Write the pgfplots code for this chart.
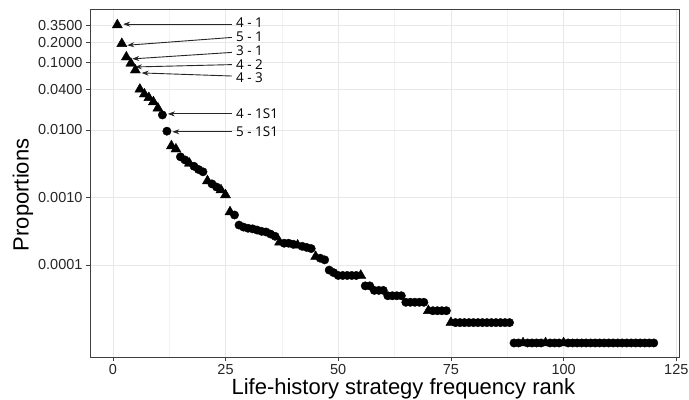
\documentclass[border=0pt]{standalone}
\usepackage{fontspec}
\setmainfont{Liberation Sans}
\newfontfamily\annfont{Open Sans}
\usepackage{pgfplots}
\usepackage{pgfplotstable}
\pgfplotsset{compat=1.18}
\usetikzlibrary{arrows.meta}

% triangles
\pgfplotstableread{
r p
1 0.36
2 0.19
3 0.12
4 0.097
5 0.077
6 0.040
7 0.034
8 0.030
9 0.026
10 0.021
13 0.0058
14 0.0052
17 0.0032
21 0.00176
24 0.00129
25 0.00109
26 0.00061
37 0.000217
41 0.000196
45 0.000133
55 0.0000699
70 0.000021
75 0.000014
91 0.00000699
96 0.00000699
100 0.00000699
}\tri

% circles
\pgfplotstableread{
r p
11 0.0167
12 0.0096
15 0.0040
16 0.0036
18 0.0029
19 0.0026
20 0.0024
22 0.00159
23 0.00143
27 0.00055
28 0.00039
29 0.000364
30 0.00035
31 0.000343
32 0.000329
33 0.000315
34 0.000308
35 0.000287
36 0.000266
38 0.00021
39 0.00021
40 0.000203
42 0.000189
43 0.000182
44 0.000175
46 0.000126
47 0.000119
48 0.0000839
49 0.0000769
50 0.0000699
51 0.0000699
52 0.0000699
53 0.0000699
54 0.0000699
56 0.000049
57 0.000049
58 0.000042
59 0.000042
60 0.000042
61 0.000035
62 0.000035
63 0.000035
64 0.000035
65 0.000028
66 0.000028
67 0.000028
68 0.000028
69 0.000028
71 0.000021
72 0.000021
73 0.000021
74 0.000021
76 0.000014
77 0.000014
78 0.000014
79 0.000014
80 0.000014
81 0.000014
82 0.000014
83 0.000014
84 0.000014
85 0.000014
86 0.000014
87 0.000014
88 0.000014
89 0.00000699
90 0.00000699
92 0.00000699
93 0.00000699
94 0.00000699
95 0.00000699
97 0.00000699
98 0.00000699
99 0.00000699
101 0.00000699
102 0.00000699
103 0.00000699
104 0.00000699
105 0.00000699
106 0.00000699
107 0.00000699
108 0.00000699
109 0.00000699
110 0.00000699
111 0.00000699
112 0.00000699
113 0.00000699
114 0.00000699
115 0.00000699
116 0.00000699
117 0.00000699
118 0.00000699
119 0.00000699
120 0.00000699
}\circ

\begin{document}
\begin{tikzpicture}
\begin{axis}[name=ax, scale only axis, width=589pt, height=348pt,
  xmin=-5.06, xmax=125.6, ymode=log, ymin=4.33e-6, ymax=0.62,
  xtick={0,25,50,75,100,125},
  minor xtick={12.5,37.5,62.5,87.5,112.5},
  ytick={0.0001,0.001,0.01,0.04,0.1,0.2,0.35},
  yticklabels={0.0001,0.0010,0.0100,0.0400,0.1000,0.2000,0.3500},
  minor ytick={},
  xmajorgrids, xminorgrids, ymajorgrids,
  major grid style={black!9, line width=0.6pt},
  minor grid style={black!5, line width=0.5pt},
  axis line style={black!75, line width=0.7pt},
  tick style={black!75, line width=0.6pt},
  tick align=outside, major tick length=4pt, minor tick length=0pt,
  tick pos=left,
  /pgf/number format/assume math mode=true,
  ticklabel style={font=\fontsize{14.5}{17}\selectfont, text=black!85},
  xlabel={Life-history strategy frequency rank},
  ylabel={Proportions},
  label style={font=\fontsize{22}{26}\selectfont},
  xlabel style={at={(ticklabel cs:0.532)}, yshift=3pt},
  ylabel style={at={(ticklabel cs:0.466)}, yshift=-2pt},
  clip=false,
]
\addplot[only marks, mark=triangle*, mark size=5.8pt, black] table[x=r,y=p]{\tri};
\addplot[only marks, mark=*, mark size=4.2pt, black] table[x=r,y=p]{\circ};

\tikzset{arr/.style={-{Stealth[length=7pt,width=5pt]}, black!85, line width=0.9pt},
         lab/.style={anchor=west, inner sep=0pt, font=\annfont\fontsize{13.5}{15}\selectfont}}
\draw[arr] (axis cs:26.4,0.37) -- (axis cs:2.3,0.37);
\draw[arr] (axis cs:26.4,0.235) -- (axis cs:3.2,0.18);
\draw[arr] (axis cs:26.4,0.141) -- (axis cs:4.3,0.113);
\draw[arr] (axis cs:26.4,0.093) -- (axis cs:4.9,0.0858);
\draw[arr] (axis cs:26.4,0.063) -- (axis cs:6.4,0.070);
\draw[arr] (axis cs:26.4,0.0173) -- (axis cs:12.2,0.0173);
\draw[arr] (axis cs:26.4,0.0094) -- (axis cs:13.2,0.0094);
\node[lab] at (axis cs:27.3,0.385) {4 - 1};
\node[lab] at (axis cs:27.3,0.243) {5 - 1};
\node[lab] at (axis cs:27.3,0.151) {3 - 1};
\node[lab] at (axis cs:27.3,0.094) {4 - 2};
\node[lab] at (axis cs:27.3,0.060) {4 - 3};
\node[lab] at (axis cs:27.3,0.0173) {4 - 1S1};
\node[lab] at (axis cs:27.3,0.0094) {5 - 1S1};
\end{axis}
\pgfresetboundingbox
\path ([shift={(-90pt,-43pt)}]ax.south west) rectangle ([shift={(10pt,9pt)}]ax.north east);
\end{tikzpicture}
\end{document}
